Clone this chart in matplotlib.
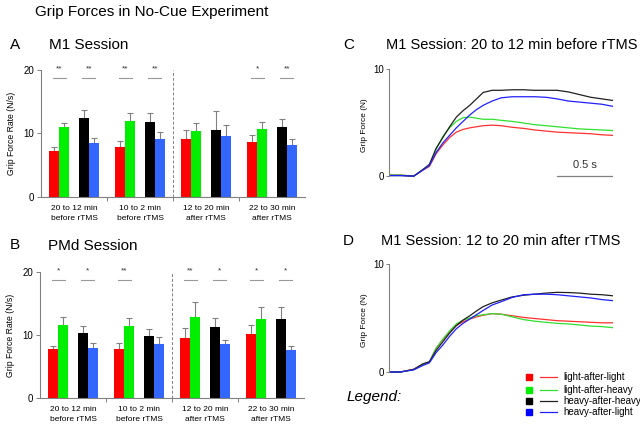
import numpy as np
import matplotlib
matplotlib.use("Agg")
import matplotlib.pyplot as plt
from matplotlib.patches import Rectangle
from matplotlib.lines import Line2D

plt.rcParams["font.family"] = ["Liberation Sans", "DejaVu Sans"]

# ---- data ----
groups = ["20 to 12 min\nbefore rTMS", "10 to 2 min\nbefore rTMS",
          "12 to 20 min\nafter rTMS", "22 to 30 min\nafter rTMS"]
conds = ["light-after-light", "light-after-heavy", "heavy-after-heavy", "heavy-after-light"]

# bar heights (N/s), order: red, green, black, blue per group
m1_mean = [[7.2, 11.0, 12.5, 8.55],
           [7.85, 12.0, 11.8, 9.2],
           [9.1, 10.45, 10.5, 9.65],
           [8.7, 10.7, 11.05, 8.25]]
m1_top = [[7.8, 11.6, 13.7, 9.3],
          [8.8, 13.2, 13.2, 10.3],
          [10.5, 11.6, 13.5, 11.3],
          [9.7, 11.8, 12.3, 9.1]]
pmd_mean = [[7.75, 11.55, 10.3, 7.9],
            [7.85, 11.4, 9.9, 8.5],
            [9.5, 12.9, 11.25, 8.6],
            [10.1, 12.6, 12.55, 7.6]]
pmd_top = [[8.3, 12.8, 11.5, 8.7],
           [8.75, 12.65, 10.9, 9.75],
           [11.1, 15.2, 12.65, 9.2],
           [11.6, 14.4, 14.4, 8.2]]
m1_sig = [["**", "**"], ["**", "**"], ["", ""], ["*", "**"]]
pmd_sig = [["*", "*"], ["**", ""], ["**", "*"], ["*", "*"]]

# force traces (N) vs time (s)
t = [0, 0.1, 0.22, 0.30, 0.36, 0.42, 0.48, 0.54, 0.60, 0.66, 0.72, 0.78, 0.84,
     0.92, 1.0, 1.1, 1.2, 1.3, 1.4, 1.5, 1.6, 1.7, 1.8, 1.9, 2.0]
c_red = [0.1, 0.1, 0.0, 0.55, 0.9, 2.1, 2.9, 3.6, 4.1, 4.35, 4.5, 4.6, 4.7,
         4.75, 4.7, 4.55, 4.45, 4.3, 4.2, 4.1, 4.05, 4.0, 3.95, 3.85, 3.8]
c_green = [0.1, 0.1, 0.0, 0.6, 1.0, 2.5, 3.7, 4.5, 5.1, 5.45, 5.5, 5.4, 5.3,
           5.3, 5.2, 5.1, 4.95, 4.8, 4.7, 4.6, 4.5, 4.4, 4.35, 4.3, 4.25]
c_black = [0.05, 0.05, 0.0, 0.6, 1.1, 2.6, 3.6, 4.6, 5.5, 6.1, 6.6, 7.2, 7.8,
           8.0, 8.0, 8.05, 8.05, 8.0, 8.0, 8.0, 7.85, 7.6, 7.35, 7.2, 7.05]
c_blue = [0.05, 0.05, 0.0, 0.55, 1.0, 2.2, 3.1, 3.8, 4.5, 5.1, 5.7, 6.2, 6.6,
          7.0, 7.3, 7.4, 7.4, 7.4, 7.35, 7.2, 7.0, 6.9, 6.8, 6.7, 6.5]
d_red = [0, 0, 0.25, 0.7, 0.95, 2.2, 3.0, 3.7, 4.3, 4.65, 4.9, 5.1, 5.25,
         5.4, 5.35, 5.2, 5.05, 4.95, 4.85, 4.75, 4.7, 4.65, 4.6, 4.55, 4.55]
d_green = [0, 0, 0.2, 0.65, 0.95, 2.2, 3.05, 3.8, 4.45, 4.8, 5.0, 5.2, 5.3,
           5.4, 5.35, 5.1, 4.85, 4.7, 4.6, 4.5, 4.45, 4.35, 4.25, 4.2, 4.1]
d_black = [0, 0, 0.25, 0.75, 0.95, 2.0, 2.8, 3.6, 4.3, 4.8, 5.2, 5.65, 6.05,
           6.4, 6.65, 6.95, 7.1, 7.2, 7.3, 7.37, 7.35, 7.3, 7.2, 7.15, 7.05]
d_blue = [0, 0, 0.2, 0.6, 0.85, 1.8, 2.5, 3.3, 4.0, 4.5, 4.9, 5.3, 5.7,
          6.2, 6.5, 6.9, 7.15, 7.2, 7.2, 7.15, 7.05, 6.95, 6.85, 6.7, 6.6]

bar_colors = ["#ff0000", "#00ee00", "#000000", "#3366ff"]
line_colors = ["#ff3030", "#30e030", "#202020", "#2020ff"]
square_colors = ["#ff0000", "#00ee00", "#000000", "#0000ff"]
spine_gray = "#808080"

fig = plt.figure(figsize=(6.4, 4.25), dpi=100)
fig.text(0.055, 0.972, "Grip Forces in No-Cue Experiment", fontsize=11, va="center")

offsets = [0.2, 0.35, 0.65, 0.8]


def bar_panel(rect, means, tops, sigs):
    ax = fig.add_axes(rect)
    for gi in range(len(groups)):
        for ci in range(4):
            x = gi + offsets[ci]
            v = means[gi][ci]
            ax.bar(x, v, width=0.15, color=bar_colors[ci], edgecolor="none", zorder=2)
            ax.errorbar(x, v, yerr=[[0], [tops[gi][ci] - v]], ecolor=spine_gray,
                        elinewidth=0.8, capsize=2, capthick=0.8, fmt="none", zorder=1)
        for pi in range(2):
            s = sigs[gi][pi]
            if s:
                xc = gi + (offsets[2 * pi] + offsets[2 * pi + 1]) / 2
                ax.plot([xc - 0.1, xc + 0.1], [18.7, 18.7], color="#999999", lw=0.8,
                        clip_on=False)
                ax.text(xc, 20.2, s, ha="center", va="center", fontsize=6, color="#333333")
    ax.axvline(2, color=spine_gray, lw=0.7, ls=(0, (3, 2)), zorder=0)
    ax.set_xlim(0, 4)
    ax.set_ylim(0, 20)
    ax.set_yticks([0, 10, 20])
    ax.set_xticks([1, 2, 3])
    ax.set_xticklabels([])
    ax.tick_params(axis="both", colors=spine_gray, labelcolor="black", labelsize=7,
                   length=3, width=0.7, pad=2)
    for sp in ["top", "right"]:
        ax.spines[sp].set_visible(False)
    for sp in ["left", "bottom"]:
        ax.spines[sp].set_color(spine_gray)
        ax.spines[sp].set_linewidth(0.8)
    for gi, g in enumerate(groups):
        ax.text(gi + 0.5, -1.3, g, ha="center", va="top", fontsize=6, linespacing=1.55)
    ax.set_ylabel("Grip Force Rate (N/s)", fontsize=6.2, labelpad=5)
    return ax


bar_panel([0.064, 0.5365, 0.4125, 0.2988], m1_mean, m1_top, m1_sig)
bar_panel([0.0625, 0.0635, 0.4125, 0.2965], pmd_mean, pmd_top, pmd_sig)

fig.text(0.016, 0.893, "A", fontsize=11, va="center")
fig.text(0.076, 0.893, "M1 Session", fontsize=11, va="center")
fig.text(0.016, 0.424, "B", fontsize=11, va="center")
fig.text(0.075, 0.422, "PMd Session", fontsize=11, va="center")


def trace_panel(rect, series):
    ax = fig.add_axes(rect)
    for y, c in zip(series, line_colors):
        ax.plot(t, y, color=c, lw=0.9)
    ax.set_xlim(0, 2)
    ax.set_ylim(-0.5, 10)
    ax.set_yticks([0, 10])
    ax.set_xticks([])
    for sp in ["top", "right", "bottom"]:
        ax.spines[sp].set_visible(False)
    ax.spines["left"].set_bounds(0, 10)
    ax.spines["left"].set_color(spine_gray)
    ax.spines["left"].set_linewidth(0.8)
    ax.tick_params(axis="y", colors=spine_gray, labelcolor="black", labelsize=7,
                   length=2, width=0.7, pad=1.5)
    ax.set_ylabel("Grip Force (N)", fontsize=6, labelpad=4)
    ax.patch.set_visible(False)
    return ax


axc = trace_panel([0.608, 0.573, 0.35, 0.265], [c_red, c_green, c_black, c_blue])
axc.plot([1.5, 2.0], [0, 0], color=spine_gray, lw=0.9)
axc.text(1.75, 0.55, "0.5 s", ha="center", va="bottom", fontsize=8, color="#333333")
trace_panel([0.608, 0.112, 0.35, 0.267], [d_red, d_green, d_black, d_blue])

fig.text(0.536, 0.893, "C", fontsize=11, va="center")
fig.text(0.603, 0.893, "M1 Session: 20 to 12 min before rTMS", fontsize=10.5, va="center")
fig.text(0.536, 0.432, "D", fontsize=11, va="center")
fig.text(0.595, 0.432, "M1 Session: 12 to 20 min after rTMS", fontsize=10.5, va="center")

# legend
fig.text(0.542, 0.066, "Legend:", fontsize=11, style="italic", va="center")
leg_y = [377, 390, 401, 412]
for yp, sq, lc, name in zip(leg_y, square_colors, line_colors, conds):
    fy = 1 - yp / 425
    fig.add_artist(Rectangle((526 / 640, fy - 3 / 425), 6 / 640, 6 / 425,
                             transform=fig.transFigure, color=sq))
    fig.add_artist(Line2D([540 / 640, 557 / 640], [fy, fy], transform=fig.transFigure,
                          color=lc, lw=0.9))
    fig.text(563 / 640, fy, name, fontsize=7, va="center")

fig.savefig("out.png", dpi=100)
